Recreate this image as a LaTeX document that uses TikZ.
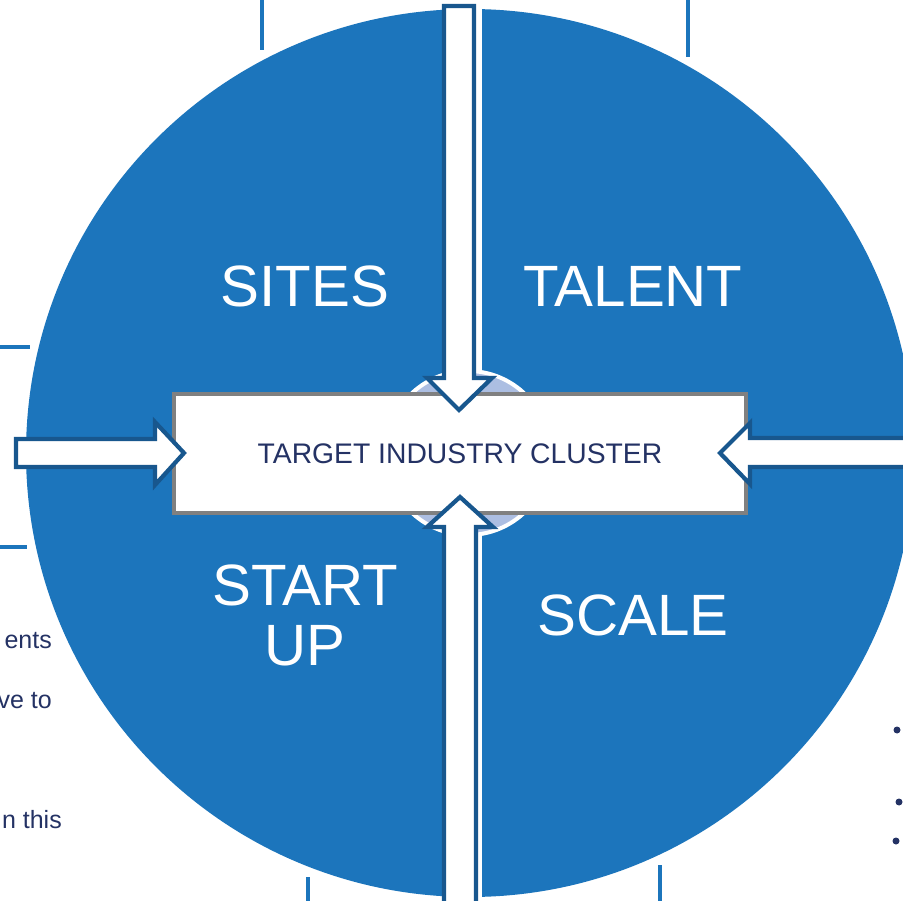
\documentclass[tikz,border=0pt]{standalone}
\usepackage{fontspec}
\setmainfont{Liberation Sans}
\definecolor{cblue}{RGB}{28,117,188}
\definecolor{adark}{RGB}{24,87,142}
\definecolor{navy}{RGB}{36,50,100}
\definecolor{lav}{RGB}{172,190,226}
\definecolor{boxgray}{RGB}{128,128,128}
\tikzset{
  frameline/.style={draw=cblue, line width=3.5pt},
  bigarrow/.style={draw=adark, line width=4.2pt, fill=white, line join=miter},
  quadlabel/.style={text=white, font=\fontsize{58.3}{62}\selectfont, inner sep=0pt, anchor=base},
  clusterbox/.style={draw=boxgray, line width=4pt, fill=white, minimum width=572pt, minimum height=119pt, inner sep=0pt, text=navy, font=\fontsize{28.3}{30}\selectfont},
  sidetext/.style={text=navy, font=\fontsize{25}{28}\selectfont, inner sep=0pt, anchor=base east},
  bulletdot/.style={fill=navy}
}
\begin{document}
\begin{tikzpicture}[x=1pt,y=-1pt]
\useasboundingbox (0,0) rectangle (903,901);
\clip (0,0) rectangle (903,901);
% background frame fragments
\draw[frameline] (262,-3) -- (262,50);
\draw[frameline] (688,-3) -- (688,57);
\draw[frameline] (-3,347) -- (30,347);
\draw[frameline] (-3,547) -- (27,547);
\draw[frameline] (308,877) -- (308,905);
\draw[frameline] (660,865) -- (660,905);
% big circle
\fill[cblue] (470,453) circle (444pt);
\fill[white] (476,-5) rectangle (482,906);
% centre circle
\draw[white, line width=4pt, fill=lav] (468,453) circle (82pt);
% box
\node[clusterbox] (tic) at (460,453.5) {TARGET INDUSTRY CLUSTER};
% arrows
\draw[bigarrow] (444,6) -- (474,6) -- (474,378) -- (492,378) -- (459,410) -- (427,378) -- (444,378) -- cycle;
\draw[bigarrow] (444,910) -- (476,910) -- (476,527) -- (493,527) -- (460,497) -- (427,527) -- (444,527) -- cycle;
\draw[bigarrow] (16,439) -- (155,439) -- (155,422) -- (184,453) -- (155,485) -- (155,467) -- (16,467) -- cycle;
\draw[bigarrow] (910,438) -- (750,438) -- (750,423) -- (720,453) -- (750,484) -- (750,467) -- (910,467) -- cycle;
% quadrant labels
\node[quadlabel] (sites) at (305,307) {SITES};
\node[quadlabel] (talent) at (633,307) {TALENT};
\node[quadlabel] (start) at (305,605) {START};
\node[quadlabel] (up) at (305,665) {UP};
\node[quadlabel] (scale) at (633,635) {SCALE};
% side text fragments
\node[sidetext] (t1) at (52,648) {ents};
\node[sidetext] (t2) at (52,708) {ve to};
\node[sidetext] (t3) at (62,828) {n this};
% bullets
\fill[bulletdot] (897,730) circle (3.5pt);
\fill[bulletdot] (899,802) circle (3.5pt);
\fill[bulletdot] (896,841) circle (3.5pt);
\end{tikzpicture}
\end{document}
